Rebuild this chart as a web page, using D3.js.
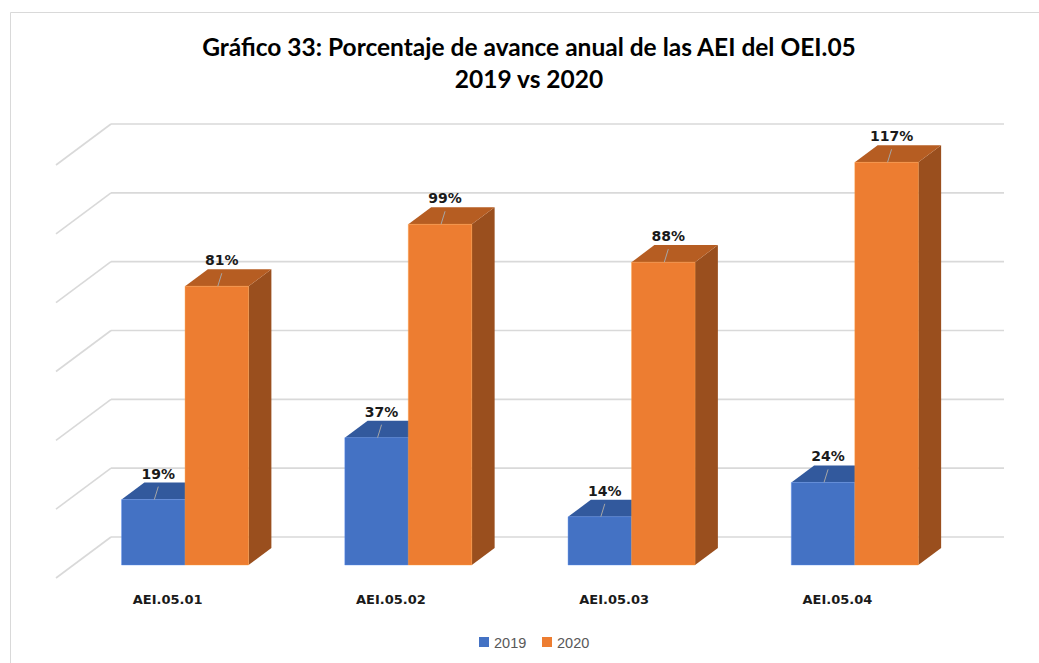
<!DOCTYPE html>
<html>
<head>
<meta charset="utf-8">
<script src="https://cdn.jsdelivr.net/npm/d3@7"></script>
<style>
  body { margin: 0; background: #fff; }
  svg { display: block; }
</style>
</head>
<body>
<div id="chart"></div>
<script>
// ---- data ----
const categories = ["AEI.05.01", "AEI.05.02", "AEI.05.03", "AEI.05.04"];
const seriesNames = ["2019", "2020"];
const values2019 = [19, 37, 14, 24];
const values2020 = [81, 99, 88, 117];
const yTicks = [0, 20, 40, 60, 80, 100, 120];
const titleLines = ["Gráfico 33: Porcentaje de avance anual de las AEI del OEI.05", "2019 vs 2020"];

// ---- styling ----
const palette = {
  "2019": { front: "#4472C4", top: "#32599D", side: "#2B4C86" },
  "2020": { front: "#ED7D31", top: "#B65D22", side: "#9A4F1E" }
};
const series = [
  { name: "2019", values: values2019 },
  { name: "2020", values: values2020 }
];

const W = 1039, H = 663;
const svg = d3.select("#chart").append("svg")
  .attr("width", W).attr("height", H);

// chart area frame
svg.append("path")
  .attr("d", `M10.5,${H} V12.5 H${W}`)
  .attr("fill", "none")
  .attr("stroke", "#d9d9d9")
  .attr("stroke-width", 1);

// ---- 3D layout ----
const wallLeft = 111, wallRight = 1004;
const y = d3.scaleLinear().domain([0, 120]).range([537, 124]);
const depth = { dx: -55, dy: 41 };      // back wall -> front edge of floor
const barFront = 0.683, barBack = 0.268; // depth fractions of the bar faces
const proj = (x, v, d) => [x + d * depth.dx, y(v) + d * depth.dy];

const x0 = d3.scaleBand().domain(categories).range([wallLeft, wallRight]);
const groupW = 127;
const x1 = d3.scaleBand().domain(seriesNames).range([0, groupW]);

// ---- gridlines: back wall + left wall ----
const grid = svg.append("g").attr("stroke", "#d9d9d9").attr("stroke-width", 1.6).attr("fill", "none");
grid.selectAll("line.back").data(yTicks).join("line")
  .attr("class", "back")
  .attr("x1", wallLeft).attr("x2", wallRight)
  .attr("y1", d => y(d)).attr("y2", d => y(d));
grid.selectAll("line.side").data(yTicks).join("line")
  .attr("class", "side")
  .attr("x1", wallLeft).attr("y1", d => y(d))
  .attr("x2", d => proj(wallLeft, d, 1)[0]).attr("y2", d => proj(wallLeft, d, 1)[1]);

// ---- bars ----
const poly = pts => "M" + pts.map(p => p.join(",")).join("L") + "Z";
const bars = svg.append("g");
const labelData = [];

categories.forEach((cat, i) => {
  series.forEach(s => {
    const v = s.values[i];
    const c = palette[s.name];
    const left = x0(cat) + x0.bandwidth() / 2 - groupW / 2 + x1(s.name);
    const right = left + x1.bandwidth();
    const g = bars.append("g");
    // right side face
    g.append("path").attr("fill", c.side)
      .attr("d", poly([proj(right, 0, barFront), proj(right, v, barFront), proj(right, v, barBack), proj(right, 0, barBack)]));
    // top face
    g.append("path").attr("fill", c.top)
      .attr("d", poly([proj(left, v, barFront), proj(right, v, barFront), proj(right, v, barBack), proj(left, v, barBack)]));
    // front face
    g.append("path").attr("fill", c.front)
      .attr("stroke", d3.color(c.front).brighter(0.6)).attr("stroke-opacity", 0.5).attr("stroke-width", 0.8)
      .attr("d", poly([proj(left, 0, barFront), proj(right, 0, barFront), proj(right, v, barFront), proj(left, v, barFront)]));
    const top = proj((left + right) / 2, v, barFront);
    labelData.push({ x: top[0], y: top[1], v });
  });
});

// ---- data labels with leader lines ----
const labels = svg.append("g");
labelData.forEach(d => {
  const lx = d.x + 5, ly = d.y - 21;
  labels.append("line")
    .attr("x1", d.x + 1).attr("y1", d.y)
    .attr("x2", lx).attr("y2", ly + 8)
    .attr("stroke", "#a6a6a6").attr("stroke-width", 1);
  labels.append("text")
    .attr("x", lx).attr("y", ly)
    .attr("text-anchor", "middle")
    .attr("font-family", "DejaVu Sans, sans-serif")
    .attr("font-weight", "bold").attr("font-size", 14)
    .attr("fill", "#1a1a1a")
    .text(d.v + "%");
});

// ---- category labels along the front edge of the floor ----
svg.append("g").selectAll("text").data(categories).join("text")
  .attr("x", d => proj(x0(d) + x0.bandwidth() / 2, 0, 1)[0])
  .attr("y", d => proj(0, 0, 1)[1] + 26)
  .attr("text-anchor", "middle")
  .attr("font-family", "DejaVu Sans, sans-serif")
  .attr("font-weight", "bold").attr("font-size", 13)
  .attr("fill", "#1a1a1a")
  .text(d => d);

// ---- title ----
svg.append("g").selectAll("text").data(titleLines).join("text")
  .attr("x", 529)
  .attr("y", (d, i) => 56 + i * 32)
  .attr("text-anchor", "middle")
  .attr("font-family", "Lato, sans-serif")
  .attr("font-weight", "bold").attr("font-size", 24.5)
  .attr("fill", "#000")
  .text(d => d);

// ---- legend ----
const legend = svg.append("g").attr("transform", "translate(479,637)");
const legX = { "2019": 0, "2020": 63 };
seriesNames.forEach(n => {
  const g = legend.append("g").attr("transform", `translate(${legX[n]},0)`);
  g.append("rect").attr("width", 10).attr("height", 10).attr("fill", palette[n].front);
  g.append("text").attr("x", 15).attr("y", 10.5)
    .attr("font-family", "Liberation Sans, Arial, sans-serif")
    .attr("font-size", 14.5).attr("fill", "#595959")
    .text(n);
});
</script>
</body>
</html>
